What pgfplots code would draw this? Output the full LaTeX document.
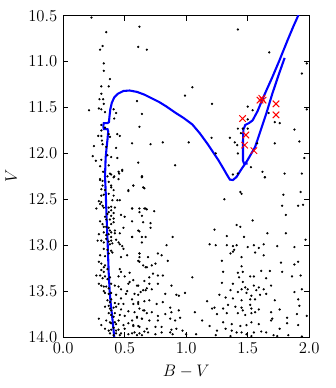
\documentclass[border=0pt,12pt]{standalone}
\usepackage{pgfplots}
\pgfplotsset{compat=1.18}

\begin{document}
\begin{tikzpicture}
\begin{axis}[
    scale only axis,
    width=177.1pt, height=231.3pt,
    xmin=0, xmax=2, ymin=10.5, ymax=14,
    y dir=reverse,
    xtick={0,0.5,1,1.5,2},
    ytick={10.5,11,11.5,12,12.5,13,13.5,14},
    xticklabel style={/pgf/number format/.cd,fixed,fixed zerofill,precision=1},
    yticklabel style={/pgf/number format/.cd,fixed,fixed zerofill,precision=1},
    tick align=inside,
    major tick length=3.6pt,
    tick style={black, line width=0.5pt},
    axis line style={line width=0.6pt},
    xlabel={$B-V$},
    ylabel={$V$},
    clip=true,
]
% field and cluster stars
\addplot[only marks, mark=*, mark size=0.6pt, black] coordinates {
(0.23,10.52)(0.62,10.62)(0.35,10.68)(0.32,10.83)(0.30,10.87)(0.61,10.84)(0.68,10.87)
(0.33,11.02)(0.33,11.10)(0.38,11.19)(0.31,11.27)(0.37,11.27)(0.31,11.35)(0.295,11.41)
(0.325,11.41)(0.33,11.46)(0.29,11.51)(0.31,11.52)(0.21,11.53)(0.41,11.52)(0.34,11.55)
(0.43,11.56)(0.415,11.62)(0.99,11.37)(0.60,11.43)(0.64,11.57)(0.62,11.71)(0.31,11.69)
(0.31,11.75)(0.34,11.72)(0.285,11.81)(0.31,11.81)(0.37,11.79)(0.38,11.82)(0.44,11.79)
(0.46,11.81)(0.25,11.92)(0.315,11.86)(0.32,11.90)(0.35,11.93)(0.43,11.94)(0.56,11.89)
(0.71,11.90)(0.81,11.88)(1.02,11.88)(0.24,12.03)(0.265,12.08)(0.31,12.07)(0.36,12.02)
(0.39,12.04)(0.44,12.05)(0.61,12.10)(0.91,12.13)(0.30,12.14)(0.37,12.13)(0.325,12.20)
(0.38,12.22)(0.415,12.25)(0.455,12.22)(0.48,12.18)(0.64,12.25)(0.30,12.28)
(1.42,10.65)(1.675,10.90)(1.98,11.02)(1.94,11.13)(1.05,11.28)(1.21,11.46)(1.50,11.49)
(1.54,11.53)(1.67,11.56)(1.50,11.63)(1.98,11.52)(1.72,11.66)(1.76,11.67)(1.42,11.73)
(1.46,11.73)(1.50,11.73)(1.88,11.74)(1.445,11.78)(1.355,11.83)(1.206,11.83)(1.395,11.88)
(1.415,11.91)(1.577,11.89)(1.72,11.89)(1.92,11.87)(1.24,12.00)(1.42,12.00)(1.96,12.05)
(1.526,12.15)(1.62,12.20)(1.38,12.23)(1.42,12.22)(1.64,12.26)(1.80,12.22)(1.94,12.22)
(0.36,12.25)(0.39,12.23)(0.41,12.26)(0.45,12.20)(0.45,12.28)(0.48,12.19)(0.64,12.25)
(0.30,12.29)(0.32,12.30)(0.37,12.31)(0.39,12.35)(0.32,12.35)(0.31,12.39)(0.34,12.40)
(0.39,12.37)(0.41,12.40)(0.57,12.35)(0.65,12.37)(0.53,12.41)(0.31,12.46)(0.33,12.45)
(0.37,12.44)(0.41,12.46)(0.46,12.51)(0.44,12.51)(0.40,12.51)(0.29,12.52)(0.30,12.55)
(0.32,12.57)(0.31,12.53)(0.33,12.59)(0.37,12.59)(0.39,12.58)(0.42,12.59)(0.37,12.64)
(0.39,12.62)(0.39,12.68)(0.36,12.66)(0.34,12.69)(0.35,12.72)(0.38,12.72)(0.41,12.71)
(0.41,12.65)(0.47,12.67)(0.50,12.69)(0.56,12.60)(0.62,12.64)(0.66,12.60)(0.68,12.61)
(0.56,12.74)(0.64,12.68)(0.30,12.74)(0.32,12.77)(0.33,12.80)(0.35,12.80)(0.37,12.81)
(0.39,12.77)(0.41,12.75)(0.38,12.84)(0.39,12.86)(0.29,12.88)(0.33,12.86)(0.35,12.89)
(0.37,12.88)(0.39,12.91)(0.42,12.87)(0.42,12.84)(0.46,12.87)(0.49,12.81)(0.62,12.85)
(0.31,12.95)(0.33,12.97)(0.35,12.93)(0.37,12.96)(0.39,12.95)(0.38,12.99)(0.40,12.98)
(0.43,12.94)(0.45,12.97)(0.46,12.99)(0.48,13.01)(0.49,13.04)(0.56,12.91)(0.64,12.91)
(0.33,13.04)(0.36,13.05)(0.39,13.06)(0.40,13.08)(0.64,12.97)(0.62,13.09)
(0.27,13.33)(0.28,12.95)(0.29,13.80)(0.27,12.60)
(0.30,13.11)(0.34,13.12)(0.37,13.09)(0.47,13.13)(0.52,13.11)(0.62,13.13)(0.65,13.22)
(0.68,13.24)(0.29,13.18)(0.31,13.20)(0.33,13.24)(0.34,13.22)(0.31,13.27)(0.33,13.29)
(0.36,13.26)(0.46,13.26)(0.47,13.29)(0.54,13.30)(0.62,13.18)(0.30,13.33)(0.32,13.36)
(0.34,13.34)(0.36,13.37)(0.38,13.35)(0.45,13.34)(0.50,13.34)(0.53,13.42)(0.57,13.38)
(0.29,13.42)(0.31,13.44)(0.33,13.45)(0.35,13.45)(0.37,13.47)(0.39,13.42)(0.42,13.44)
(0.45,13.45)(0.47,13.48)(0.52,13.50)(0.60,13.44)(0.33,13.50)(0.34,13.52)(0.37,13.53)
(0.39,13.52)(0.43,13.54)(0.47,13.58)(0.51,13.53)(0.56,13.59)(0.61,13.54)(0.65,13.49)
(0.68,13.47)(0.36,13.60)(0.38,13.62)(0.39,13.59)(0.42,13.63)(0.45,13.64)(0.49,13.64)
(0.57,13.64)(0.61,13.64)(0.34,13.67)(0.37,13.66)(0.38,13.69)(0.39,13.71)(0.41,13.68)
(0.43,13.67)(0.47,13.70)(0.53,13.72)(0.58,13.73)(0.62,13.69)(0.65,13.71)(0.37,13.74)
(0.39,13.76)(0.41,13.78)(0.42,13.74)(0.46,13.76)(0.50,13.77)(0.56,13.82)(0.60,13.78)
(0.64,13.80)(0.68,13.74)(0.35,13.82)(0.38,13.84)(0.39,13.85)(0.42,13.84)(0.43,13.86)
(0.45,13.82)(0.49,13.87)(0.53,13.85)(0.57,13.87)(0.61,13.88)(0.31,13.87)(0.34,13.91)
(0.37,13.93)(0.39,13.92)(0.41,13.90)(0.43,13.93)(0.45,13.92)(0.47,13.96)(0.50,13.91)
(0.53,13.97)(0.56,13.96)(0.60,13.98)(0.62,13.96)(0.66,13.94)(0.38,13.96)(0.41,13.98)
(0.43,13.96)(0.46,13.98)
(0.64,12.26)(0.53,12.40)(0.57,12.35)(0.66,12.38)(0.56,12.60)(0.62,12.60)(0.67,12.60)
(0.74,12.63)(0.65,12.75)(0.71,12.76)(0.71,12.81)(0.61,12.84)(0.56,12.91)(0.67,12.91)
(0.89,12.91)(0.77,13.09)(0.84,13.00)(0.62,13.09)(0.69,13.13)(0.61,13.17)(0.67,13.24)
(0.72,13.22)(0.75,13.20)(0.80,13.11)(0.85,13.17)(0.73,13.31)(0.77,13.33)(0.81,13.33)
(0.66,13.39)(0.70,13.35)(0.54,13.40)(0.61,13.44)(0.70,13.42)(0.77,13.42)(0.88,13.44)
(0.63,13.51)(0.67,13.49)(0.58,13.53)(0.72,13.48)(0.83,13.53)(0.92,13.54)(0.94,13.55)
(0.99,13.52)(0.61,13.62)(0.66,13.61)(0.70,13.60)(0.76,13.64)(0.81,13.62)(0.87,13.68)
(0.66,13.71)(0.72,13.73)(0.77,13.77)(0.83,13.75)(0.88,13.73)(0.94,13.71)(0.60,13.79)
(0.64,13.80)(0.70,13.82)(0.77,13.82)(0.87,13.80)(0.91,13.82)(0.95,13.79)(0.57,13.88)
(0.62,13.89)(0.68,13.91)(0.75,13.89)(0.80,13.89)(0.88,13.92)(0.92,13.91)(0.58,13.95)
(0.64,13.98)(0.69,13.95)(0.75,13.97)(0.80,13.95)(0.87,13.95)(0.89,13.97)(0.97,13.93)
(1.00,13.97)
(1.64,12.26)(1.44,12.42)(1.45,12.44)(1.93,12.42)(1.31,12.50)(1.79,12.45)(1.78,12.57)
(1.91,12.57)(1.95,12.56)(1.81,12.67)(1.54,12.73)(1.41,12.78)(1.44,12.80)(1.23,12.83)
(1.33,12.90)(1.47,12.91)(1.66,12.87)(1.81,12.87)(1.97,12.94)(1.19,12.99)(1.24,13.00)
(1.33,13.00)(1.38,13.01)(1.41,13.00)(1.39,13.05)(1.50,13.02)(1.55,13.00)(1.63,12.99)
(1.59,13.03)(1.74,13.01)(1.88,13.02)(1.38,13.07)(1.36,13.09)(1.56,13.08)(1.63,13.11)
(1.45,13.13)(1.29,13.17)(1.91,13.18)(1.88,13.21)(1.77,13.19)(1.45,13.23)(1.61,13.28)
(1.68,13.28)(1.78,13.29)(1.30,13.29)(1.42,13.30)(1.46,13.29)(1.52,13.34)(1.55,13.34)
(1.43,13.35)(1.05,13.35)(1.65,13.36)(1.86,13.34)(1.93,13.33)(1.29,13.41)(1.38,13.42)
(1.46,13.40)(1.55,13.44)(1.59,13.46)(1.63,13.48)(1.69,13.44)(1.45,13.48)(1.48,13.46)
(1.50,13.48)(1.36,13.49)(1.42,13.51)(1.49,13.52)(1.53,13.55)(1.57,13.49)(1.60,13.54)
(1.65,13.53)(1.88,13.51)(1.94,13.48)(1.27,13.54)(1.32,13.57)(1.38,13.58)(1.45,13.60)
(1.52,13.59)(1.56,13.59)(1.72,13.60)(1.91,13.59)(1.17,13.61)(1.23,13.68)(1.30,13.69)
(1.34,13.65)(1.40,13.67)(1.45,13.68)(1.52,13.65)(1.53,13.69)(1.46,13.71)(1.59,13.70)
(1.69,13.73)(1.76,13.70)(1.92,13.66)(1.07,13.73)(1.21,13.69)(1.25,13.75)(1.33,13.74)
(1.42,13.74)(1.48,13.76)(1.53,13.74)(1.56,13.73)(1.70,13.80)(1.82,13.79)(1.90,13.75)
(1.98,13.77)(1.13,13.82)(1.19,13.88)(1.30,13.84)(1.37,13.86)(1.44,13.88)(1.49,13.87)
(1.53,13.84)(1.59,13.86)(1.69,13.82)(1.76,13.91)(1.82,13.85)(1.91,13.87)(1.25,13.93)
(1.32,13.91)(1.37,13.93)(1.41,13.95)(1.45,13.95)(1.49,13.97)(1.55,13.95)(1.61,13.94)
(1.65,13.95)(1.08,13.97)(1.24,13.98)(1.36,13.99)(1.53,13.99)(1.71,13.98)(1.74,13.99)
(1.83,13.98)(1.94,13.995)
};
% isochrone: main sequence, subgiant branch, giant branch
\addplot[blue, line width=1.5pt, no marks] coordinates {
(0.415,14.0)(0.40,13.80)(0.385,13.62)(0.378,13.50)(0.37,13.30)(0.362,13.00)
(0.353,12.70)(0.345,12.40)(0.34,12.25)(0.345,12.05)(0.352,11.95)(0.36,11.85)
(0.366,11.76)(0.36,11.735)(0.33,11.735)(0.326,11.70)(0.33,11.67)(0.36,11.67)
(0.372,11.66)(0.376,11.60)(0.383,11.52)(0.395,11.45)(0.415,11.39)(0.445,11.35)
(0.49,11.32)(0.54,11.315)(0.60,11.33)(0.66,11.36)(0.72,11.40)(0.78,11.44)
(0.84,11.49)(0.91,11.555)(0.98,11.615)(1.05,11.685)(1.11,11.78)(1.17,11.89)
(1.22,11.99)(1.26,12.07)(1.30,12.16)(1.33,12.23)(1.355,12.285)(1.38,12.29)
(1.41,12.255)(1.44,12.19)(1.47,12.13)(1.50,12.07)(1.53,12.00)(1.56,11.93)
(1.60,11.77)(1.65,11.57)(1.70,11.35)(1.75,11.15)(1.80,10.96)
};
% clump loop and upper branch
\addplot[blue, line width=1.5pt, no marks] coordinates {
(1.50,12.11)(1.47,12.11)(1.462,12.08)(1.462,11.85)(1.465,11.74)(1.48,11.69)
(1.51,11.67)(1.54,11.64)(1.58,11.54)(1.62,11.41)(1.653,11.31)(1.70,11.17)
(1.76,10.98)(1.82,10.78)(1.87,10.62)(1.93,10.44)
};
% red giants
\addplot[only marks, mark=x, mark size=3.3pt, red, mark options={line width=0.7pt}] coordinates {
(1.458,11.62)(1.485,11.80)(1.475,11.91)(1.55,11.97)(1.60,11.42)(1.615,11.40)
(1.625,11.42)(1.73,11.46)(1.73,11.58)
};
\coordinate (bl) at (rel axis cs:0,0);
\coordinate (tr) at (rel axis cs:1,1);
\end{axis}
\path (bl) ++(-43.2pt,-36.7pt) coordinate (pbl);
\path (tr) ++(18.7pt,11.3pt) coordinate (ptr);
\path (pbl) rectangle (ptr);
\end{tikzpicture}
\end{document}
